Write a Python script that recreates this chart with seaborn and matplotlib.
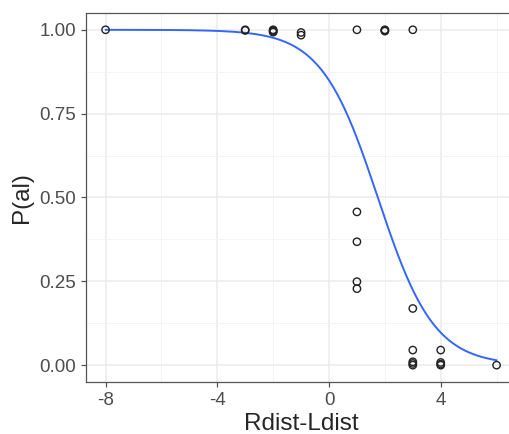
import numpy as np
import pandas as pd
import seaborn as sns
import matplotlib.pyplot as plt
from matplotlib.ticker import MultipleLocator

# observed proportions
dist = [-8, -3, -3, -2, -2, -2, -2, -1, -1, 1, 2, 2, 2, 3,
        1, 1, 1, 1, 3, 3, 3, 3, 3, 4, 4, 4, 4, 6]
p_al = [1.0, 1.0, 0.998, 1.0, 0.998, 0.995, 0.993, 0.992, 0.984, 1.0, 1.0, 0.998, 0.996, 1.0,
        0.457, 0.368, 0.249, 0.228, 0.169, 0.045, 0.01, 0.005, 0.0, 0.045, 0.008, 0.003, 0.0, 0.0]

# logistic fit
intercept = 1.73
slope = -0.99

df = pd.DataFrame({'dist': dist, 'p': p_al})
xs = np.linspace(min(dist), max(dist), 200)
fit = pd.DataFrame({'dist': xs, 'p': 1 / (1 + np.exp(-(intercept + slope * xs)))})

sns.set_style('white')
plt.rcParams['font.family'] = ['Liberation Sans', 'DejaVu Sans']
plt.rcParams['axes.unicode_minus'] = False

fig = plt.figure(figsize=(5.09, 4.34), dpi=100)
ax = fig.add_axes([0.169, 0.12, 0.845, 0.85])

sns.lineplot(data=fit, x='dist', y='p', color='#3366FF', linewidth=1.4, ax=ax, zorder=2)
sns.scatterplot(data=df, x='dist', y='p', facecolor='none', edgecolor='#222222',
                linewidth=1.0, s=28, ax=ax, zorder=3)

ax.set_xlim(-8.7, 6.7)
ax.set_ylim(-0.05, 1.05)
ax.set_xticks([-8, -4, 0, 4])
ax.set_yticks([0, 0.25, 0.5, 0.75, 1.0])
ax.set_yticklabels(['0.00', '0.25', '0.50', '0.75', '1.00'])
ax.xaxis.set_minor_locator(MultipleLocator(2))
ax.yaxis.set_minor_locator(MultipleLocator(0.125))
ax.grid(True, which='major', color='#EBEBEB', linewidth=1.1)
ax.grid(True, which='minor', color='#F3F3F3', linewidth=0.6)
ax.set_axisbelow(True)
for s in ax.spines.values():
    s.set_color('#555555')
    s.set_linewidth(0.9)
ax.tick_params(which='major', length=3.5, width=0.9, color='#555555',
               labelcolor='#4D4D4D', labelsize=13.5, left=True, bottom=True)
ax.tick_params(which='minor', length=0)
ax.set_xlabel('Rdist-Ldist', fontsize=17.5, labelpad=3)
ax.set_ylabel('P(al)', fontsize=17.5, labelpad=5)

fig.savefig('out.png', dpi=100)
